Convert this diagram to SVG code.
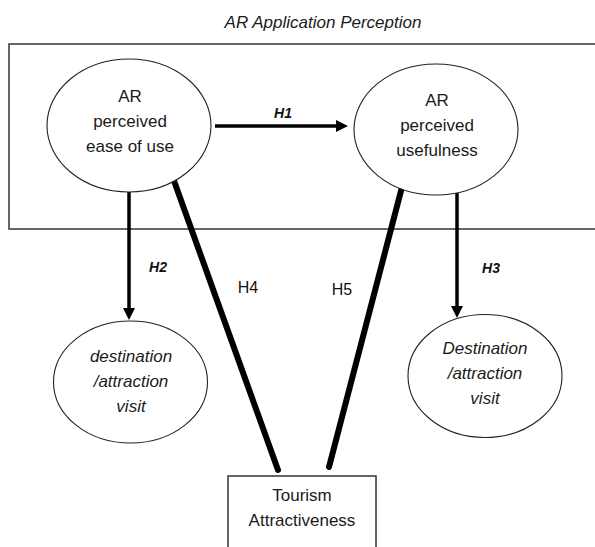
<svg xmlns="http://www.w3.org/2000/svg" width="595" height="547" viewBox="0 0 595 547">
<style>
  .node { fill: #fff; stroke: #222; stroke-width: 1.1; }
  .box { fill: none; stroke: #333; stroke-width: 1.5; }
  .t { font-family: "Liberation Sans", Arial, sans-serif; font-size: 17px; fill: #1a1a1a; text-anchor: middle; }
  .i { font-style: italic; }
  .h { font-family: "Liberation Sans", Arial, sans-serif; font-size: 14px; font-weight: bold; font-style: italic; fill: #111; text-anchor: middle; }
  .hr { font-family: "Liberation Sans", Arial, sans-serif; font-size: 16px; fill: #111; text-anchor: middle; }
  .arrow { stroke: #000; stroke-width: 3.5; fill: none; }
  .thick { stroke: #000; stroke-width: 6; stroke-linecap: round; fill: none; }
</style>
<defs>
  <marker id="ah" markerUnits="userSpaceOnUse" viewBox="0 0 12 12" markerWidth="12" markerHeight="12" refX="1" refY="6" orient="auto">
    <path d="M0,0 L12,6 L0,12 z" fill="#000"/>
  </marker>
</defs>

<text class="t i" x="323" y="28">AR Application Perception</text>

<g id="group-box">
  <rect class="box" x="9" y="44" width="600" height="185"/>
</g>

<g id="connectors">
  <line class="arrow" x1="215" y1="126" x2="337" y2="126" marker-end="url(#ah)"/>
  <line class="arrow" x1="129" y1="192" x2="129" y2="309" marker-end="url(#ah)"/>
  <line class="arrow" x1="457" y1="193" x2="457" y2="307" marker-end="url(#ah)"/>
  <line class="thick" x1="173" y1="178" x2="278" y2="470"/>
  <line class="thick" x1="402" y1="187" x2="329" y2="467"/>
  <text class="h" x="283" y="118">H1</text>
  <text class="h" x="158" y="272">H2</text>
  <text class="h" x="491" y="273">H3</text>
  <text class="hr" x="248" y="293">H4</text>
  <text class="hr" x="342" y="295">H5</text>
</g>

<g id="node-ease">
  <ellipse class="node" cx="129" cy="125.5" rx="82" ry="66.5"/>
  <text class="t" x="130" y="102">AR</text>
  <text class="t" x="130" y="127">perceived</text>
  <text class="t" x="130" y="152">ease of use</text>
</g>

<g id="node-usefulness">
  <ellipse class="node" cx="436" cy="129.5" rx="82" ry="65.5"/>
  <text class="t" x="437" y="106">AR</text>
  <text class="t" x="437" y="131">perceived</text>
  <text class="t" x="437" y="156">usefulness</text>
</g>

<g id="node-visit-left">
  <ellipse class="node" cx="130.5" cy="382" rx="77" ry="61"/>
  <text class="t i" x="131" y="362">destination</text>
  <text class="t i" x="131" y="387">/attraction</text>
  <text class="t i" x="131" y="412">visit</text>
</g>

<g id="node-visit-right">
  <ellipse class="node" cx="485" cy="376" rx="77" ry="61.5"/>
  <text class="t i" x="485" y="354">Destination</text>
  <text class="t i" x="485" y="379">/attraction</text>
  <text class="t i" x="485" y="404">visit</text>
</g>

<g id="node-tourism">
  <rect class="box" x="228" y="476" width="148" height="90"/>
  <text class="t" x="302" y="501">Tourism</text>
  <text class="t" x="302" y="526">Attractiveness</text>
</g>
</svg>
